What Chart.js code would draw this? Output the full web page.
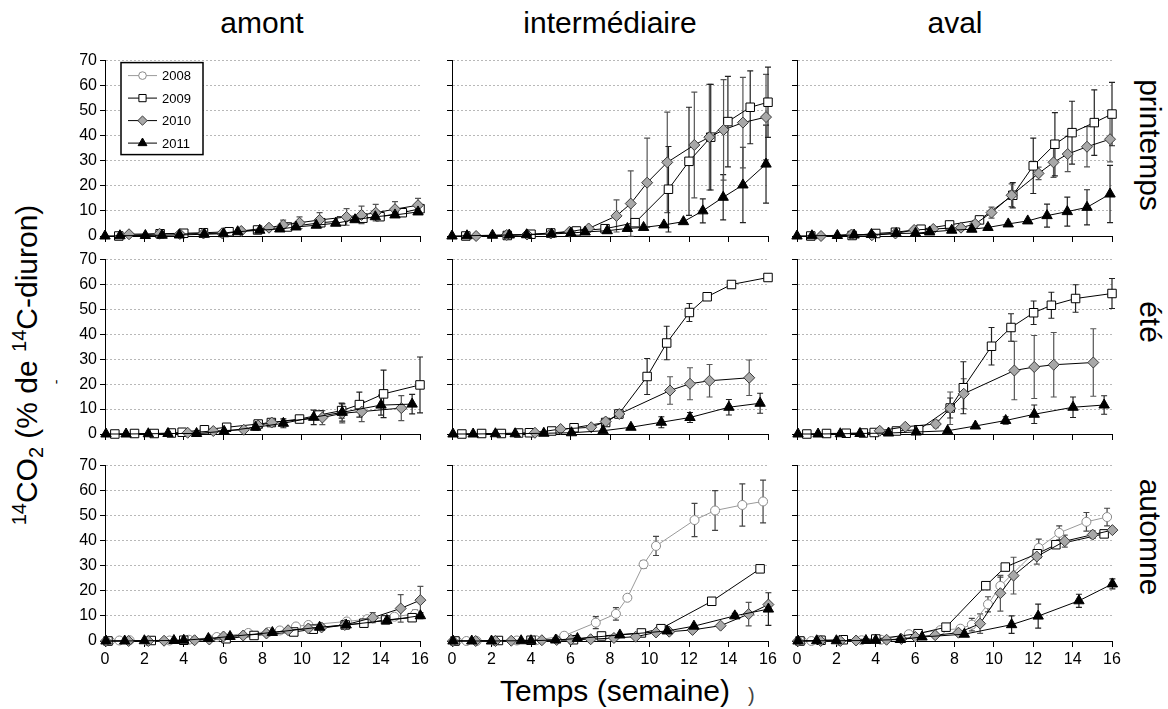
<!DOCTYPE html>
<html>
<head>
<meta charset="utf-8">
<script src="https://cdn.jsdelivr.net/npm/chart.js@4/dist/chart.umd.min.js"></script>
<style>
  body { margin: 0; background: #fff; width: 1168px; height: 709px; position: relative; overflow: hidden;
         font-family: "Liberation Sans", Arial, sans-serif; color: #000; }
  canvas { position: absolute; }
  .big { position: absolute; font-size: 30px; line-height: 30px; white-space: nowrap; }
  .big sup, .big sub { font-size: 20px; line-height: 0; }
  .big sup { vertical-align: 11px; }
  .big sub { vertical-align: -6px; }
</style>
</head>
<body>

<div class="big" style="left:262px; top:8px; transform:translateX(-50%)">amont</div>
<div class="big" style="left:610px; top:8px; transform:translateX(-50%)">intermédiaire</div>
<div class="big" style="left:955px; top:8px; transform:translateX(-50%)">aval</div>

<div class="big" style="left:1150px; top:145px; transform:translate(-50%,-50%) rotate(90deg)">printemps</div>
<div class="big" style="left:1150px; top:322px; transform:translate(-50%,-50%) rotate(90deg)">été</div>
<div class="big" style="left:1150px; top:537px; transform:translate(-50%,-50%) rotate(90deg)">automne</div>

<div class="big" style="left:27px; top:365px; transform:translate(-50%,-50%) rotate(-90deg)"><sup>14</sup>CO<sub>2</sub> (% de <sup>14</sup>C-diuron)</div>
<div class="big" style="left:615px; top:676px; transform:translateX(-50%)">Temps (semaine)</div>

<div style="position:absolute; left:54px; top:374px; font-size:14px; transform:rotate(-90deg)">-</div>
<div style="position:absolute; left:748px; top:684px; font-size:20px; color:#444">)</div>

<script>
const sites = ['amont', 'intermédiaire', 'aval'];
const seasons = ['printemps', 'été', 'automne'];
const years = ['2008', '2009', '2010', '2011'];
const xTickValues = [0, 2, 4, 6, 8, 10, 12, 14, 16];
const yTickValues = [0, 10, 20, 30, 40, 50, 60, 70];

// sampling times (weeks)
const tPrin2009 = [0.7, 2.8, 4.0, 5.0, 6.3, 7.75, 9.27, 10.96, 12.0, 13.1, 13.97, 15.1, 16.0];
const tPrin2010 = [1.22, 2.77, 3.8, 5.0, 5.95, 6.92, 8.33, 9.05, 9.88, 10.9, 12.27, 13.03, 13.75, 14.73, 15.9];
const tPrin2011 = [0, 0.76, 2.05, 2.9, 3.78, 5.04, 6.02, 6.74, 7.86, 8.88, 9.7, 10.73, 11.72, 12.7, 13.73, 14.73, 15.9];
const tEte2009 = [0.5, 1.5, 2.5, 3.37, 3.92, 5.05, 6.18, 7.78, 8.45, 9.88, 10.87, 12.02, 12.92, 14.15, 16.0];
const tEte2010 = [4.2, 5.5, 7.05, 7.78, 8.47, 11.04, 12.05, 13.04, 15.05];
const tEte2011 = [0.05, 1.07, 2.2, 3.2, 4.65, 6.05, 7.65, 9.06, 10.6, 12.05, 14.02, 15.6];
const tAut2008 = [0.25, 0.73, 1.25, 2.15, 3.28, 4.26, 5.68, 7.28, 8.3, 8.88, 9.7, 10.33, 12.28, 13.32, 14.7, 15.75];
const tAut2009 = [0.15, 1.22, 2.35, 4.0, 6.15, 7.57, 9.59, 10.58, 12.2, 13.15, 14.25, 15.6];
const tAut2010 = [0.05, 1.2, 2.2, 3.0, 4.55, 5.3, 6.02, 7.02, 8.2, 9.3, 10.33, 11.0, 12.18, 13.6, 15.02, 16.02];
const tAut2011 = [0.05, 1.0, 2.0, 3.5, 4.0, 5.25, 6.35, 8.5, 10.9, 12.25, 14.32, 16.02];

// printemps
const amontPrin2009 = [0, 0.9, 1.1, 1.3, 1.7, 2.4, 3.6, 5.3, 6.0, 7.1, 7.7, 9.3, 10.9];
const amontPrin2009Err = [0, 0, 0, 0, 0, 0.4, 0.6, 0.9, 1.0, 1.2, 1.3, 1.4, 1.5];
const amontPrin2010 = [0.7, 0.9, 0.8, 1.0, 1.1, 2.0, 3.3, 4.4, 5.3, 6.4, 7.6, 8.4, 9.3, 10.7, 12.3];
const amontPrin2010Err = [0, 0, 0, 0, 0, 0.5, 0.8, 1.9, 2.3, 2.9, 3.3, 3.5, 3.3, 3.0, 2.7];
const amontPrin2011 = [0, 0.1, 0.2, 0.3, 0.4, 0.7, 0.9, 1.7, 2.3, 2.8, 3.6, 4.3, 5.1, 6.5, 7.7, 8.4, 9.6];
const amontPrin2011Err = [0, 0, 0, 0, 0, 0, 0, 0, 0, 0.4, 0.5, 0.6, 0.7, 0.8, 0.9, 1.0, 1.0];

const interPrin2009 = [0, 0.2, 0.7, 1.2, 2.0, 2.9, 5.3, 18.6, 29.7, 39.3, 45.5, 51.2, 53.2];
const interPrin2009Err = [0, 0, 0, 0, 0, 0.5, 1.5, 17, 21.5, 21, 18, 14.5, 14];
const interPrin2010 = [0, 0.4, 0.6, 1.0, 1.7, 3.0, 8.0, 12.9, 21.2, 29.3, 36.2, 39.3, 42.2, 45.1, 47.3];
const interPrin2010Err = [0, 0, 0, 0, 0, 0, 6.4, 13, 17.7, 20, 21, 21, 20, 18, 17];
const interPrin2011 = [0, 0.1, 0.3, 0.4, 0.5, 0.8, 1.2, 1.6, 2.1, 3.0, 3.4, 4.4, 5.7, 10.0, 15.4, 20.3, 28.6];
const interPrin2011Err = [0, 0, 0, 0, 0, 0, 0, 0, 0, 0, 0, 0, 0, 4.8, 9, 15, 15.5];

const avalPrin2009 = [0, 0.2, 1.0, 1.5, 2.7, 4.4, 6.4, 16.2, 27.9, 36.5, 41.1, 45.1, 48.5];
const avalPrin2009Err = [0, 0, 0, 0, 0, 0, 1, 5, 11, 12.6, 12.5, 13, 12.6];
const avalPrin2010 = [0, 0.6, 0.3, 1.0, 2.4, 2.8, 3.3, 4.8, 9.3, 16.2, 24.9, 29.3, 32.6, 35.5, 38.5];
const avalPrin2010Err = [0, 0, 0, 0, 0, 0.8, 0.8, 1.2, 2.2, 4.5, 2.5, 6, 7, 8, 9];
const avalPrin2011 = [0, 0.1, 0.2, 0.4, 0.6, 1.0, 1.1, 1.6, 2.3, 2.7, 3.4, 4.8, 6.0, 8.1, 9.7, 11.4, 16.7];
const avalPrin2011Err = [0, 0, 0, 0, 0, 0, 0, 0, 0, 0, 0, 0, 0, 4.6, 5.8, 7, 11.4];

// été
const amontEte2009 = [0, 0.2, 0.2, 0.4, 0.7, 1.7, 2.7, 4.0, 4.6, 6.0, 7.6, 9.4, 11.8, 16.1, 19.7];
const amontEte2009Err = [0, 0, 0, 0, 0, 0, 0.5, 0.7, 1, 1, 1.5, 3, 5, 9.5, 11.2];
const amontEte2010 = [0.5, 1.2, 1.7, 3.4, 4.6, 6.6, 8.3, 9.0, 10.4];
const amontEte2010Err = [0, 0, 0, 0.8, 1.3, 2.8, 3.8, 4, 5];
const amontEte2011 = [0, 0, 0.1, 0.2, 0.2, 1.1, 2.7, 4.3, 6.7, 8.7, 11.6, 12.0];
const amontEte2011Err = [0, 0, 0, 0, 0, 0.5, 1.2, 1.8, 2.9, 3.5, 4, 3.9];

const interEte2009 = [0, 0.2, 0.2, 0.4, 0.5, 1.2, 2.5, 4.6, 8.0, 23.0, 36.4, 48.6, 54.9, 59.8, 62.6];
const interEte2009Err = [0, 0, 0, 0, 0, 0, 0, 0.8, 1.5, 7.2, 6.7, 3.6, 1.5, 0, 0];
const interEte2010 = [0.5, 2.0, 2.7, 5.0, 8.0, 17.4, 20.1, 21.3, 22.5];
const interEte2010Err = [0, 0, 0, 0.8, 1.5, 5.5, 6.4, 6.5, 7.1];
const interEte2011 = [0, 0, 0.1, 0.1, 0.3, 0.5, 1.3, 2.7, 4.7, 6.6, 10.7, 12.3];
const interEte2011Err = [0, 0, 0, 0, 0, 0, 0, 0, 2.2, 2, 3.1, 4];

const avalEte2009 = [0, 0.2, 0.3, 0.4, 0.6, 1.2, 1.7, 10.4, 18.5, 35.1, 42.6, 48.5, 51.5, 54.2, 56.2];
const avalEte2009Err = [0, 0, 0, 0, 0, 0, 0, 4, 10.4, 7.5, 5.5, 4.7, 5.2, 5.5, 6];
const avalEte2010 = [1.3, 2.9, 4.0, 10.3, 16.1, 25.4, 26.8, 27.7, 28.6];
const avalEte2010Err = [0, 0, 1.5, 6.5, 6, 11.7, 12.6, 12.9, 13.5];
const avalEte2011 = [0, 0, 0.1, 0.2, 0.4, 0.8, 1.3, 3.2, 5.4, 7.9, 10.7, 11.6];
const avalEte2011Err = [0, 0, 0, 0, 0, 0, 0, 0, 1.5, 3.7, 4.1, 3.7];

// automne
const amontAut2008 = [0, 0.2, 0.3, 0, 0.2, 0.5, 1.6, 3.2, 3.6, 4.2, 5.8, 6.4, 7.8, 8.7, 9.7, 10.8];
const amontAut2008Err = [0, 0, 0, 0, 0, 0, 0, 0, 0, 0, 0.5, 0.6, 0.8, 1, 1.2, 1.5];
const amontAut2009 = [0, null, 0.2, 0.3, 0.9, 2.2, 3.6, 4.7, 6.4, 7.1, 8.4, 9.3];
const amontAut2009Err = [0, 0, 0, 0, 0, 0, 0, 0, 0, 0, 0.8, 1];
const amontAut2010 = [0, 0, 0, 0.1, 0.3, 0.6, 1.8, 2.2, 3.0, 4.3, 5.0, 5.4, 6.4, 9.3, 13.0, 16.3];
const amontAut2010Err = [0, 0, 0, 0, 0, 0, 0, 0, 0, 0, 0, 0, 0.8, 2, 5.5, 5.5];
const amontAut2011 = [0, 0, 0.1, 0.2, 0.3, 1.0, 1.8, 3.4, 5.5, 6.4, 8.2, 10.1];
const amontAut2011Err = [0, 0, 0, 0, 0, 0, 0, 0, 0, 0, 0.8, 1.2];

const interAut2008 = [0, 0, 0, 0, 0.2, 0.3, 2.1, 7.3, 10.8, 17.2, 30.5, 37.8, 48.1, 51.9, 54.1, 55.5];
const interAut2008Err = [0, 0, 0, 0, 0, 0, 0, 2.4, 2.5, 0, 1.5, 3.8, 6.6, 7.9, 8.4, 8.5];
const interAut2009 = [0, null, 0.2, 0.3, 0.5, 2.0, 3.2, 4.9, null, 15.8, null, 28.7];
const interAut2009Err = [0, 0, 0, 0, 0, 0, 0, 1.3, 0, 1.2, 0, 0];
const interAut2010 = [0, 0, 0, 0.1, 0.3, 0.4, 0.5, 0.7, 1.2, 1.7, 3.4, 3.7, 4.4, 6.1, 10.7, 14.5];
const interAut2010Err = [0, 0, 0, 0, 0, 0, 0, 0, 0, 0, 0, 0, 0, 0, 4.7, 0];
const interAut2011 = [0, 0, 0, 0.1, 0.1, 0.4, 1.0, 2.4, 4.0, 5.9, 10.0, 12.7];
const interAut2011Err = [0, 0, 0, 0, 0, 0, 0, 0, 0, 0, 1, 6.5];

const avalAut2008 = [0, 0, 0.2, 0, 0.3, 0.5, 2.7, 4.3, 4.9, 6.5, 14.6, 21.9, 37.0, 43.0, 47.4, 49.3];
const avalAut2008Err = [0, 0, 0, 0, 0, 0, 0, 0, 0, 2.5, 3, 3.5, 3.5, 2.8, 3.7, 3.5];
const avalAut2009 = [0, 0.3, 0.5, 0.8, 2.9, 5.5, 22.0, 29.4, 34.7, 38.3, null, 42.6];
const avalAut2009Err = [0, 0, 0, 0, 0, 0, 0, 0, 0, 0, 0, 0];
const avalAut2010 = [0, 0, 0, 0.2, 0.5, 0.8, 1.6, 2.3, 3.3, 6.9, 19.0, 26.0, 33.6, 39.7, 42.3, 44.1];
const avalAut2010Err = [0, 0, 0, 0, 0, 0, 0, 0, 0, 3.9, 7.1, 7.3, 3, 2.4, 1.5, 0];
const avalAut2011 = [0, 0.1, 0.1, 0.2, 0.3, 0.6, 1.6, 2.7, 6.5, 9.9, 16.0, 22.7];
const avalAut2011Err = [0, 0, 0, 0, 0, 0, 0, 0, 3.5, 4.8, 2.6, 2];

// [year, times, values, errors] per panel, rows = seasons, cols = sites
const panelSeries = [
  [
    [['2009', tPrin2009, amontPrin2009, amontPrin2009Err], ['2010', tPrin2010, amontPrin2010, amontPrin2010Err], ['2011', tPrin2011, amontPrin2011, amontPrin2011Err]],
    [['2009', tPrin2009, interPrin2009, interPrin2009Err], ['2010', tPrin2010, interPrin2010, interPrin2010Err], ['2011', tPrin2011, interPrin2011, interPrin2011Err]],
    [['2009', tPrin2009, avalPrin2009, avalPrin2009Err], ['2010', tPrin2010, avalPrin2010, avalPrin2010Err], ['2011', tPrin2011, avalPrin2011, avalPrin2011Err]]
  ],
  [
    [['2009', tEte2009, amontEte2009, amontEte2009Err], ['2010', tEte2010, amontEte2010, amontEte2010Err], ['2011', tEte2011, amontEte2011, amontEte2011Err]],
    [['2009', tEte2009, interEte2009, interEte2009Err], ['2010', tEte2010, interEte2010, interEte2010Err], ['2011', tEte2011, interEte2011, interEte2011Err]],
    [['2009', tEte2009, avalEte2009, avalEte2009Err], ['2010', tEte2010, avalEte2010, avalEte2010Err], ['2011', tEte2011, avalEte2011, avalEte2011Err]]
  ],
  [
    [['2008', tAut2008, amontAut2008, amontAut2008Err], ['2009', tAut2009, amontAut2009, amontAut2009Err], ['2010', tAut2010, amontAut2010, amontAut2010Err], ['2011', tAut2011, amontAut2011, amontAut2011Err]],
    [['2008', tAut2008, interAut2008, interAut2008Err], ['2009', tAut2009, interAut2009, interAut2009Err], ['2010', tAut2010, interAut2010, interAut2010Err], ['2011', tAut2011, interAut2011, interAut2011Err]],
    [['2008', tAut2008, avalAut2008, avalAut2008Err], ['2009', tAut2009, avalAut2009, avalAut2009Err], ['2010', tAut2010, avalAut2010, avalAut2010Err], ['2011', tAut2011, avalAut2011, avalAut2011Err]]
  ]
];

const yearStyles = {
  '2008': { shape: 'circle',   radius: 4.5, fill: '#fff',    edge: '#8a8a8a', line: '#9a9a9a', err: '#444' },
  '2009': { shape: 'rect',     radius: 6,   fill: '#fff',    edge: '#000',    line: '#000',    err: '#222' },
  '2010': { shape: 'rectRot',  radius: 5.5, fill: '#a8a8a8', edge: '#3a3a3a', line: '#000',    err: '#555' },
  '2011': { shape: 'triangle', radius: 6,   fill: '#000',    edge: '#000',    line: '#000',    err: '#222' }
};

// plot-area geometry of the 3x3 grid
const colLeft = [105, 452, 797];
const colRight = [420, 768, 1112];
const rowTop = [60, 259, 465];
const rowBottom = [236, 434, 641];
const padL = 55, padT = 12, padR = 14, padB = 28;
const fontFamily = '"Liberation Sans", Arial, sans-serif';

// vertical error bars, drawn under the markers
const errorBars = {
  id: 'errorBars',
  beforeDatasetsDraw(chart) {
    const { ctx, scales: { x, y } } = chart;
    chart.data.datasets.forEach(ds => {
      ctx.save();
      ctx.strokeStyle = ds.errColor;
      ctx.lineWidth = 1.2;
      ds.data.forEach((p, j) => {
        const e = ds.errs[j];
        if (p.y === null || !e) return;
        const px = x.getPixelForValue(p.x);
        const top = y.getPixelForValue(p.y + e);
        const bot = y.getPixelForValue(p.y - e);
        ctx.beginPath();
        ctx.moveTo(px, top); ctx.lineTo(px, bot);
        ctx.moveTo(px - 3, top); ctx.lineTo(px + 3, top);
        ctx.moveTo(px - 3, bot); ctx.lineTo(px + 3, bot);
        ctx.stroke();
      });
      ctx.restore();
    });
  }
};

// boxed legend in the top-left panel
const boxLegend = {
  id: 'boxLegend',
  afterDraw(chart, args, opts) {
    if (!opts.show) return;
    const { ctx, chartArea } = chart;
    const bx = chartArea.left + 16, by = chartArea.top + 2, bw = 82, bh = 92;
    ctx.save();
    ctx.fillStyle = '#fff';
    ctx.fillRect(bx, by, bw, bh);
    ctx.lineWidth = 1.5;
    ctx.strokeStyle = '#000';
    ctx.strokeRect(bx, by, bw, bh);
    years.forEach((yr, i) => {
      const st = yearStyles[yr];
      const ly = by + 13 + i * 22.5;
      ctx.strokeStyle = st.line;
      ctx.lineWidth = 1;
      ctx.beginPath();
      ctx.moveTo(bx + 7, ly); ctx.lineTo(bx + 36, ly);
      ctx.stroke();
      ctx.fillStyle = st.fill;
      ctx.strokeStyle = st.edge;
      Chart.helpers.drawPoint(ctx, { pointStyle: st.shape, radius: st.radius * 0.85, borderWidth: 1, rotation: 0 }, bx + 21.5, ly);
      ctx.fillStyle = '#000';
      ctx.font = '13px ' + fontFamily;
      ctx.textBaseline = 'middle';
      ctx.fillText(yr, bx + 41, ly + 1);
    });
    ctx.restore();
  }
};

function makePanel(r, c) {
  const w = colRight[c] - colLeft[c] + padL + padR;
  const h = rowBottom[r] - rowTop[r] + padT + padB;
  const canvas = document.createElement('canvas');
  canvas.width = w;
  canvas.height = h;
  canvas.style.left = (colLeft[c] - padL) + 'px';
  canvas.style.top = (rowTop[r] - padT) + 'px';
  canvas.style.width = w + 'px';
  canvas.style.height = h + 'px';
  document.body.appendChild(canvas);

  const datasets = panelSeries[r][c].map(([yr, times, vals, errs]) => {
    const st = yearStyles[yr];
    return {
      label: yr,
      data: times.map((t, i) => ({ x: t, y: vals[i] })),
      errs: errs,
      errColor: st.err,
      borderColor: st.line,
      borderWidth: 1,
      pointStyle: st.shape,
      pointRadius: st.radius,
      pointBackgroundColor: st.fill,
      pointBorderColor: st.edge,
      pointBorderWidth: 1,
      tension: 0,
      spanGaps: true,
      clip: false
    };
  }).reverse();

  new Chart(canvas.getContext('2d'), {
    type: 'line',
    data: { datasets },
    options: {
      responsive: false,
      animation: false,
      devicePixelRatio: 1,
      layout: { padding: { left: 0, top: padT, right: padR, bottom: 0 } },
      plugins: {
        legend: { display: false },
        tooltip: { enabled: false },
        boxLegend: { show: r === 0 && c === 0 }
      },
      scales: {
        x: {
          type: 'linear', min: 0, max: 16,
          afterBuildTicks: s => { s.ticks = xTickValues.map(v => ({ value: v })); },
          afterFit: s => { s.height = padB; },
          grid: { drawOnChartArea: false, drawTicks: true, tickLength: 6, tickColor: '#000' },
          border: { color: '#000', width: 1 },
          ticks: { display: r === 2, color: '#000', padding: 3, maxRotation: 0, autoSkip: false,
                   font: { size: 16, family: fontFamily } }
        },
        y: {
          type: 'linear', min: 0, max: 70,
          afterBuildTicks: s => { s.ticks = yTickValues.map(v => ({ value: v })); },
          afterFit: s => { s.width = padL; },
          grid: { color: '#b8b8b8', lineWidth: 1, tickLength: 5, tickColor: '#000' },
          border: { color: '#000', width: 1, dash: [2, 2] },
          ticks: { display: c === 0, color: '#000', padding: 3,
                   font: { size: 16, family: fontFamily } }
        }
      }
    },
    plugins: [errorBars, boxLegend]
  });
}

for (let r = 0; r < seasons.length; r++) {
  for (let c = 0; c < sites.length; c++) {
    makePanel(r, c);
  }
}
</script>
</body>
</html>
